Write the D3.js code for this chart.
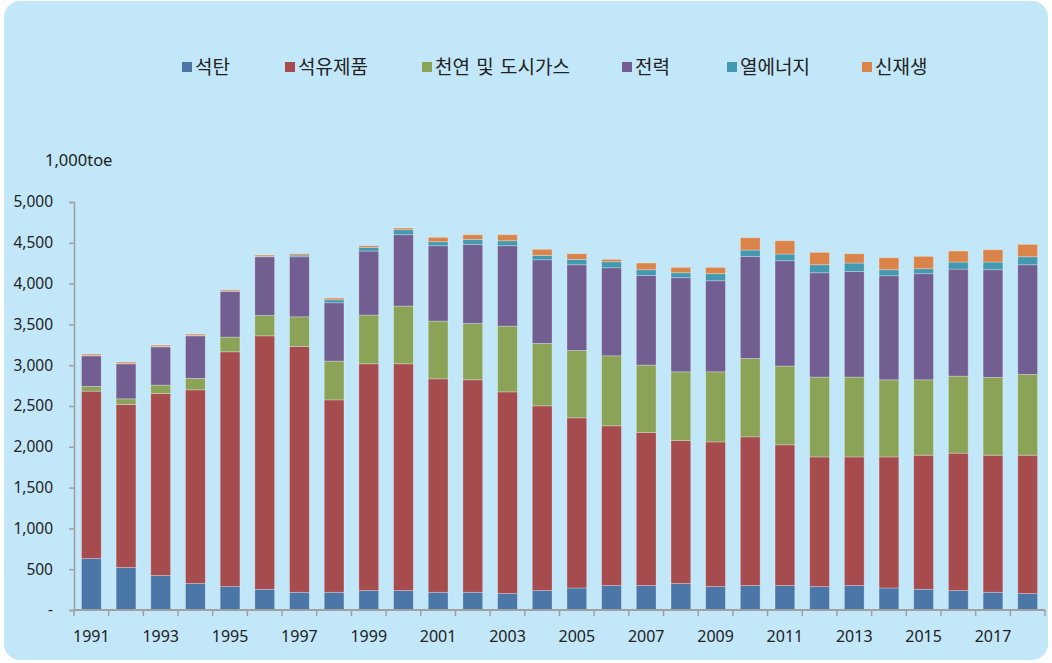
<!DOCTYPE html>
<html>
<head>
<meta charset="utf-8">
<script src="https://cdn.jsdelivr.net/npm/d3@7"></script>
<style>
  body { margin: 0; background: #ffffff; }
  svg { display: block; font-family: "Noto Sans CJK KR", "Noto Sans", sans-serif; }
</style>
</head>
<body>
<div id="chart"></div>
<script>
// categories and series (1,000toe)
var years = d3.range(1991, 2019).map(String);
var seriesNames = ["석탄", "석유제품", "천연 및 도시가스", "전력", "열에너지", "신재생"];
var seriesColours = ["#4a76a8", "#a64b4e", "#8ba356", "#735e92", "#4399b0", "#db8449"];

var coal  = [630, 520, 422, 324, 287, 254, 217, 217, 238, 238, 217, 217, 201, 238, 270, 299, 299, 324, 287, 299, 299, 287, 299, 270, 254, 238, 217, 201];
var oil   = [2052, 1999, 2232, 2374, 2877, 3106, 3013, 2358, 2779, 2779, 2616, 2604, 2472, 2264, 2085, 1958, 1877, 1754, 1773, 1823, 1725, 1589, 1577, 1606, 1643, 1684, 1680, 1696];
var gas   = [58, 69, 102, 140, 180, 250, 363, 475, 597, 708, 708, 691, 806, 765, 826, 858, 825, 841, 859, 961, 965, 978, 978, 945, 924, 944, 953, 990];
var power = [375, 429, 469, 522, 561, 719, 736, 715, 785, 874, 923, 969, 985, 1025, 1050, 1079, 1100, 1153, 1116, 1251, 1291, 1279, 1296, 1275, 1300, 1312, 1320, 1344];
var heat  = [5, 5, 5, 5, 5, 6, 21, 37, 45, 61, 49, 61, 61, 54, 66, 74, 69, 61, 86, 77, 82, 98, 102, 74, 61, 86, 94, 98];
var renew = [16, 16, 16, 16, 14, 15, 16, 21, 20, 21, 54, 57, 74, 74, 69, 29, 82, 66, 78, 151, 163, 152, 114, 147, 152, 135, 151, 152];

var yTicks = [0, 500, 1000, 1500, 2000, 2500, 3000, 3500, 4000, 4500, 5000];
var unitLabel = "1,000toe";

var W = 1052, H = 663;
var svg = d3.select("#chart").append("svg").attr("width", W).attr("height", H);

svg.append("rect")
  .attr("x", 4).attr("y", 1)
  .attr("width", 1044).attr("height", 659)
  .attr("rx", 16).attr("ry", 16)
  .attr("fill", "#c2e7f9");

var plot = {left: 74, right: 1045, top: 202, bottom: 610};

var table = years.map(function(y, i) {
  return {year: y, s0: coal[i], s1: oil[i], s2: gas[i], s3: power[i], s4: heat[i], s5: renew[i]};
});
var keys = ["s0", "s1", "s2", "s3", "s4", "s5"];
var stacked = d3.stack().keys(keys)(table);

var x = d3.scaleBand().domain(years).range([plot.left, plot.right]).paddingInner(0.43).paddingOuter(0.215);
var y = d3.scaleLinear().domain([0, 5000]).range([plot.bottom, plot.top]);

// bars
svg.append("g").selectAll("g")
  .data(stacked)
  .enter().append("g")
  .attr("fill", function(d, i) { return seriesColours[i]; })
  .selectAll("rect")
  .data(function(d) { return d; })
  .enter().append("rect")
  .attr("x", function(d) { return x(d.data.year); })
  .attr("y", function(d) { return y(d[1]); })
  .attr("width", x.bandwidth())
  .attr("height", function(d) { return y(d[0]) - y(d[1]); })
  .attr("stroke", "rgba(255,255,255,0.35)")
  .attr("stroke-width", 0.8);

// y axis
var yAxis = svg.append("g")
  .attr("transform", "translate(" + plot.left + ",0)")
  .call(d3.axisLeft(y).tickValues(yTicks).tickSize(5).tickPadding(16)
    .tickFormat(function(d) { return d === 0 ? "-" : d3.format(",")(d); }));
yAxis.select(".domain").attr("stroke", "#a0a0a0").attr("stroke-width", 1.5);
yAxis.selectAll(".tick line").attr("stroke", "#a0a0a0").attr("stroke-width", 1.5);
yAxis.selectAll("text").attr("fill", "#222").attr("font-size", 15.5).attr("font-family", "Noto Sans, sans-serif");

// x axis line with category separators
var xg = svg.append("g");
xg.append("line")
  .attr("x1", plot.left).attr("x2", plot.right)
  .attr("y1", plot.bottom).attr("y2", plot.bottom)
  .attr("stroke", "#a0a0a0").attr("stroke-width", 2);
var step = x.step();
xg.selectAll(".sep")
  .data(d3.range(years.length + 1))
  .enter().append("line")
  .attr("x1", function(i) { return plot.left + i * step; })
  .attr("x2", function(i) { return plot.left + i * step; })
  .attr("y1", plot.bottom).attr("y2", plot.bottom + 6)
  .attr("stroke", "#a0a0a0").attr("stroke-width", 1.5);
xg.selectAll(".lab")
  .data(years.filter(function(d, i) { return i % 2 === 0; }))
  .enter().append("text")
  .attr("x", function(d) { return x(d) + x.bandwidth() / 2; })
  .attr("y", 642)
  .attr("text-anchor", "middle")
  .attr("font-size", 16)
  .attr("font-family", "Noto Sans, sans-serif")
  .attr("fill", "#222")
  .text(function(d) { return d; });

// unit label
svg.append("text")
  .attr("x", 45).attr("y", 166)
  .attr("font-size", 16.5)
  .attr("font-family", "Noto Sans, sans-serif")
  .attr("fill", "#222")
  .text(unitLabel);

// legend
var legendX = [182, 285, 422, 622, 727, 862];
var legend = svg.append("g").selectAll("g")
  .data(seriesNames)
  .enter().append("g")
  .attr("transform", function(d, i) { return "translate(" + legendX[i] + ",62)"; });
legend.append("rect")
  .attr("width", 10).attr("height", 10)
  .attr("fill", function(d, i) { return seriesColours[i]; });
legend.append("text")
  .attr("x", 13).attr("y", 12)
  .attr("font-size", 19)
  .attr("word-spacing", 2)
  .attr("fill", "#222")
  .text(function(d) { return d; });
</script>
</body>
</html>
